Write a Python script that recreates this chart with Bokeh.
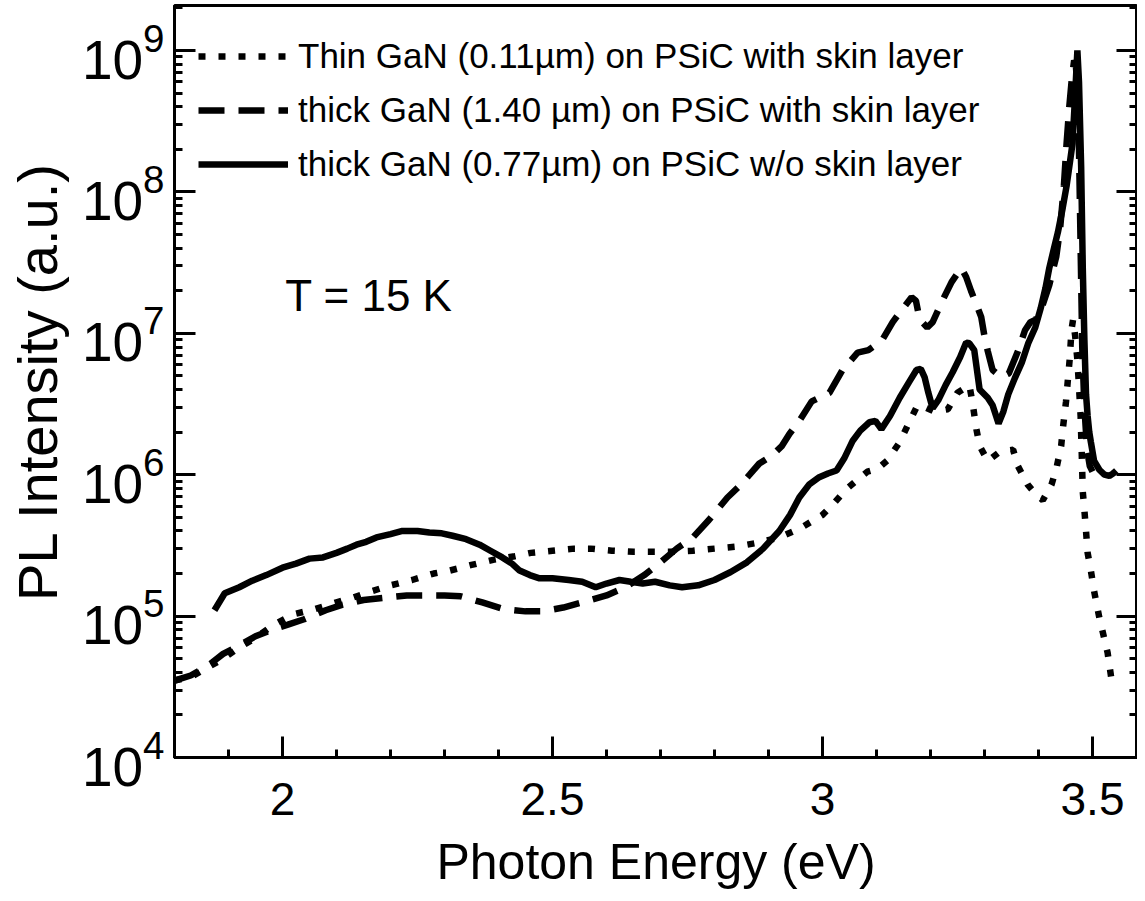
from bokeh.plotting import figure
from bokeh.models import Range1d, LogAxis, Legend, LegendItem, Label, SingleIntervalTicker, LogTicker
from bokeh.embed import file_html
from bokeh.resources import INLINE

# ---------------- data ----------------
thin_x = [1.80, 1.83, 1.86, 1.89, 1.92, 1.95, 1.98, 2.02, 2.06, 2.10, 2.13, 2.165, 2.20, 2.24, 2.28,
          2.31, 2.35, 2.39, 2.43, 2.46, 2.50, 2.54, 2.57, 2.61, 2.65, 2.68, 2.72, 2.76, 2.80, 2.84,
          2.88, 2.92, 2.96, 3.00, 3.02, 3.044, 3.063, 3.083, 3.102, 3.12, 3.143, 3.157, 3.176, 3.19,
          3.207, 3.232, 3.25, 3.272, 3.278, 3.285, 3.291, 3.306, 3.328, 3.353, 3.362, 3.38, 3.396,
          3.408, 3.424, 3.433, 3.442, 3.445, 3.451, 3.455, 3.458, 3.461, 3.464, 3.468, 3.472, 3.475,
          3.478, 3.480, 3.482, 3.485, 3.488, 3.491, 3.497, 3.503, 3.513, 3.522, 3.528, 3.535]
thin_y = [3.5e4, 3.7e4, 4.3e4, 5.0e4, 6.0e4, 7.0e4, 8.5e4, 1.03e5, 1.12e5, 1.25e5, 1.35e5, 1.5e5, 1.65e5,
          1.8e5, 2.0e5, 2.1e5, 2.3e5, 2.5e5, 2.65e5, 2.8e5, 2.9e5, 3.0e5, 3.0e5, 2.9e5, 2.85e5, 2.85e5,
          2.85e5, 2.9e5, 3.0e5, 3.1e5, 3.3e5, 3.6e5, 4.2e5, 5.2e5, 6.2e5, 7.9e5, 9.1e5, 1.05e6, 1.1e6,
          1.26e6, 1.7e6, 2.2e6, 3.1e6, 3.0e6, 2.8e6, 2.9e6, 3.8e6, 4.3e6, 3.2e6, 2.1e6, 1.6e6, 1.25e6,
          1.45e6, 1.5e6, 1.15e6, 8.5e5, 7.2e5, 6.6e5, 8.5e5, 1.1e6, 1.6e6, 2.1e6, 3.3e6, 5.0e6, 6.7e6,
          1.05e7, 1.25e7, 9.5e6, 6.5e6, 4.2e6, 2.6e6, 1.45e6, 7.6e5, 5.6e5, 4.0e5, 2.8e5, 2.1e5, 1.5e5,
          9.6e4, 6.9e4, 5.5e4, 3.6e4]

thick140_x = [1.80, 1.83, 1.86, 1.89, 1.92, 1.95, 1.98, 2.01, 2.04, 2.08, 2.11, 2.15, 2.19, 2.23, 2.26,
              2.30, 2.33, 2.37, 2.41, 2.45, 2.48, 2.52, 2.555, 2.60, 2.635, 2.67, 2.70, 2.73, 2.76, 2.79,
              2.824, 2.846, 2.865, 2.883, 2.907, 2.925, 2.939, 2.957, 2.98, 3.013, 3.037, 3.065, 3.085,
              3.11, 3.13, 3.146, 3.165, 3.173, 3.18, 3.194, 3.204, 3.222, 3.239, 3.257, 3.266, 3.275,
              3.285, 3.294, 3.30, 3.306, 3.315, 3.331, 3.345, 3.362, 3.375, 3.385, 3.395, 3.408, 3.42,
              3.433, 3.44, 3.447, 3.452, 3.457, 3.462, 3.466, 3.469, 3.472, 3.475, 3.478, 3.481, 3.485,
              3.49, 3.495, 3.50]
thick140_y = [3.5e4, 3.8e4, 4.4e4, 5.4e4, 6.2e4, 7.2e4, 8.0e4, 8.7e4, 9.5e4, 1.1e5, 1.2e5, 1.3e5, 1.35e5,
              1.4e5, 1.4e5, 1.4e5, 1.38e5, 1.25e5, 1.12e5, 1.08e5, 1.08e5, 1.15e5, 1.25e5, 1.4e5, 1.6e5,
              1.95e5, 2.4e5, 3.0e5, 3.6e5, 4.8e5, 6.9e5, 8.3e5, 1.0e6, 1.2e6, 1.37e6, 1.6e6, 1.95e6,
              2.4e6, 3.3e6, 3.8e6, 5.5e6, 7.3e6, 7.6e6, 8.9e6, 1.2e7, 1.45e7, 1.8e7, 1.7e7, 1.25e7,
              1.1e7, 1.2e7, 1.7e7, 2.3e7, 2.9e7, 2.5e7, 2.0e7, 1.6e7, 1.3e7, 9.5e6, 7.5e6, 5.5e6, 4.9e6,
              5.2e6, 7.5e6, 1.05e7, 1.2e7, 1.25e7, 1.6e7, 2.2e7, 3.5e7, 5.5e7, 1.1e8, 2.2e8, 4.0e8,
              6.5e8, 8.5e8, 8.0e8, 5.5e8, 2.0e8, 4.0e7, 8.0e6, 3.0e6, 1.5e6, 1.15e6, 1.05e6]

thick077_x = [1.874, 1.893, 1.92, 1.944, 1.97, 2.0, 2.025, 2.05, 2.075, 2.10, 2.12, 2.137, 2.155, 2.174,
              2.20, 2.222, 2.25, 2.272, 2.295, 2.315, 2.34, 2.365, 2.385, 2.407, 2.425, 2.439, 2.458,
              2.476, 2.50, 2.53, 2.555, 2.58, 2.60, 2.624, 2.645, 2.667, 2.69, 2.717, 2.74, 2.77, 2.80,
              2.83, 2.86, 2.89, 2.92, 2.94, 2.957, 2.975, 2.994, 3.01, 3.026, 3.04, 3.056, 3.07, 3.087,
              3.098, 3.109, 3.125, 3.143, 3.16, 3.174, 3.182, 3.189, 3.196, 3.204, 3.215, 3.228, 3.241,
              3.255, 3.266, 3.272, 3.281, 3.291, 3.306, 3.315, 3.326, 3.335, 3.344, 3.356, 3.369, 3.381,
              3.394, 3.404, 3.413, 3.42, 3.428, 3.436, 3.444, 3.452, 3.458, 3.463, 3.468, 3.472, 3.475,
              3.479, 3.482, 3.485, 3.488, 3.491, 3.494, 3.497, 3.503, 3.513, 3.522, 3.531, 3.538, 3.544]
thick077_y = [1.1e5, 1.45e5, 1.6e5, 1.78e5, 1.95e5, 2.2e5, 2.35e5, 2.55e5, 2.6e5, 2.8e5, 3.0e5, 3.2e5,
              3.35e5, 3.6e5, 3.8e5, 4.0e5, 4.0e5, 3.9e5, 3.85e5, 3.7e5, 3.5e5, 3.2e5, 2.9e5, 2.6e5,
              2.35e5, 2.1e5, 1.95e5, 1.85e5, 1.85e5, 1.8e5, 1.75e5, 1.6e5, 1.7e5, 1.8e5, 1.75e5, 1.7e5,
              1.75e5, 1.65e5, 1.6e5, 1.65e5, 1.8e5, 2.05e5, 2.4e5, 3.0e5, 4.0e5, 5.2e5, 6.9e5, 8.5e5,
              9.6e5, 1.02e6, 1.07e6, 1.3e6, 1.74e6, 2.05e6, 2.35e6, 2.4e6, 2.1e6, 2.6e6, 3.5e6, 4.5e6,
              5.5e6, 5.6e6, 4.9e6, 3.8e6, 2.95e6, 3.4e6, 4.3e6, 5.3e6, 6.8e6, 8.6e6, 8.5e6, 7.6e6, 4.0e6,
              3.5e6, 3.1e6, 2.3e6, 2.8e6, 3.7e6, 4.8e6, 6.2e6, 8.5e6, 1.1e7, 1.5e7, 2.1e7, 2.9e7, 3.9e7,
              5.2e7, 7.4e7, 1.1e8, 1.6e8, 2.2e8, 5e8, 1.0e9, 6.0e8, 1.5e8, 2.9e7, 9e6, 3.7e6, 2.6e6, 2.0e6,
              1.7e6, 1.25e6, 1.08e6, 1.0e6, 9.8e5, 1.02e6, 1.07e6]

series_labels = ["Thin GaN (0.11\u00b5m) on PSiC with skin layer",
                 "thick GaN (1.40 \u00b5m) on PSiC with skin layer",
                 "thick GaN (0.77\u00b5m) on PSiC w/o skin layer"]
x_title = "Photon Energy (eV)"
y_title = "PL Intensity (a.u.)"
note_text = "T = 15 K"

# ---------------- layout ----------------
FONT = "Liberation Sans"
W, H = 1137, 893
BL, BT, BB, BR = 174, 5, 136, 0
PX_PER_EV = 540.0
PX_PER_DEC = 141.4
frame_w = W - BL - BR
frame_h = H - BT - BB
x0 = 1.8
x1 = x0 + frame_w / PX_PER_EV
y_top = 10 ** (4 + frame_h / PX_PER_DEC)

p = figure(width=W, height=H, y_axis_type="log", output_backend="svg", toolbar_location=None,
           x_range=Range1d(x0, x1), y_range=Range1d(1e4, y_top),
           min_border_left=BL, min_border_top=BT, min_border_bottom=BB, min_border_right=BR)
p.background_fill_color = "white"
p.border_fill_color = "white"
p.outline_line_color = "black"
p.outline_line_width = 3
p.grid.visible = False

r_thin = p.line(thin_x, thin_y, line_color="black", line_width=6.5, line_dash="7 13")
r_140 = p.line(thick140_x, thick140_y, line_color="black", line_width=6.5, line_dash="26 14")
r_077 = p.line(thick077_x, thick077_y, line_color="black", line_width=6.5)

# x axis
xa = p.xaxis[0]
xa.ticker = SingleIntervalTicker(interval=0.5, num_minor_ticks=5)
xa.axis_line_width = 3
xa.major_tick_in = 21
xa.major_tick_out = 0
xa.minor_tick_in = 8
xa.minor_tick_out = 0
xa.major_tick_line_width = 3
xa.minor_tick_line_width = 3
xa.major_label_text_font = FONT
xa.major_label_text_font_size = "46px"
xa.major_label_text_color = "black"
xa.major_label_standoff = 25
xa.axis_label = x_title
xa.axis_label_text_font = FONT
xa.axis_label_text_font_size = "50px"
xa.axis_label_text_font_style = "normal"
xa.axis_label_text_color = "black"
xa.axis_label_standoff = 16

# y axis
ya = p.yaxis[0]
ya.ticker = LogTicker(num_minor_ticks=10)
ya.axis_line_width = 3
ya.major_tick_in = 21
ya.major_tick_out = 0
ya.minor_tick_in = 8
ya.minor_tick_out = 0
ya.major_tick_line_width = 3
ya.minor_tick_line_width = 3
ya.major_label_text_font = FONT
ya.major_label_text_font_size = "55px"
ya.major_label_text_color = "black"
ya.major_label_standoff = 10
ya.axis_label = y_title
ya.axis_label_text_font = FONT
ya.axis_label_text_font_size = "56px"
ya.axis_label_text_font_style = "normal"
ya.axis_label_text_color = "black"
ya.axis_label_standoff = 10

# right axis: ticks only, labels invisible
ra = LogAxis(ticker=LogTicker(num_minor_ticks=10))
ra.axis_line_width = 3
ra.major_tick_in = 21
ra.major_tick_out = 0
ra.minor_tick_in = 8
ra.minor_tick_out = 0
ra.major_tick_line_width = 3
ra.minor_tick_line_width = 3
ra.major_label_text_font_size = "2px"
ra.major_label_text_alpha = 0
ra.major_label_standoff = 0
p.add_layout(ra, "right")

legend = Legend(items=[LegendItem(label=series_labels[0], renderers=[r_thin]),
                       LegendItem(label=series_labels[1], renderers=[r_140]),
                       LegendItem(label=series_labels[2], renderers=[r_077])],
                location="top_left")
legend.margin = 24
legend.padding = 0
legend.spacing = 0
legend.glyph_width = 90
legend.glyph_height = 54
legend.label_height = 54
legend.label_standoff = 10
legend.label_text_font = FONT
legend.label_text_font_size = "35px"
legend.label_text_color = "black"
legend.border_line_color = None
legend.background_fill_alpha = 0
p.add_layout(legend)

note = Label(x=2.005, y=1.85e7, text=note_text, text_font=FONT, text_font_size="44px",
             text_color="black", text_baseline="middle", text_align="left")
p.add_layout(note)

open("out.html", "w").write(file_html(p, INLINE))
